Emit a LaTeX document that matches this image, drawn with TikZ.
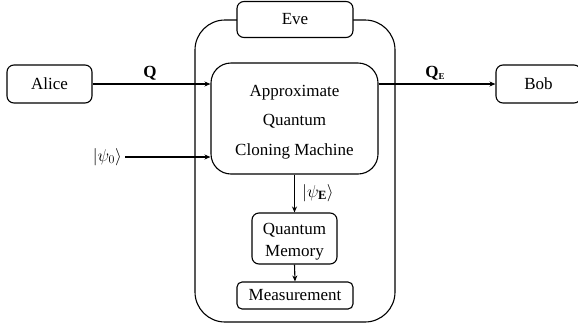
\documentclass[tikz,border=0pt]{standalone}
\usepackage{fontspec}
\setmainfont{Liberation Serif}
\usetikzlibrary{arrows.meta}
\begin{document}
\begin{tikzpicture}[x=1pt,y=-1pt,
  every node/.style={font=\fontsize{17}{21}\selectfont},
  box/.style={draw,line width=1.1pt,rounded corners=7pt,inner sep=0pt,align=center},
  txt/.style={inner sep=0pt,align=center},
  link/.style={line width=1.1pt,-{Stealth[length=6pt,width=5pt]}},
  lbl/.style={inner sep=0pt}]
\useasboundingbox (0,0) rectangle (578,330);
% Eve's enclosure and its title tab
\node[box,rounded corners=30pt,minimum width=200pt,minimum height=302pt] (eve) at (295,171) {};
\node[box,fill=white,minimum width=116pt,minimum height=36pt] (evetab) at (295,19.5) {Eve};
% parties
\node[box,minimum width=85pt,minimum height=38pt] (alice) at (49.5,84) {Alice};
\node[box,minimum width=85pt,minimum height=38pt] (bob) at (538.5,84) {Bob};
% inside Eve
\node[box,rounded corners=20pt,minimum width=167pt,minimum height=111pt] (acm) at (294.5,118.5) {};
\node[txt,font=\fontsize{17}{29.5}\selectfont] (acmtext) at (294.5,122) {Approximate\\Quantum\\Cloning Machine};
\node[box,minimum width=85pt,minimum height=51pt] (qm) at (294.5,238.5) {};
\node[txt,font=\fontsize{17}{22}\selectfont] (qmtext) at (294.5,241.5) {Quantum\\Memory};
\node[box,rounded corners=5pt,minimum width=116pt,minimum height=27pt] (meas) at (295,295.5) {Measurement};
% input state
\node[lbl,anchor=east,font=\fontsize{18}{21}\selectfont] (psi0) at (122,157) {$|\psi_0\rangle$};
% connectors
\draw[link] (alice.east) -- (acm.west |- alice.east);
\draw[link] (acm.east |- bob.west) -- (bob.west);
\draw[link] (psi0.east) ++(3,0) coordinate (p0) -- (p0 -| acm.west);
\draw[link] (acm.south) -- (qm.north);
\draw[link] (qm.south) -- (meas.north);
% labels
\node[lbl] (qlbl) at (150,73) {\textbf{Q}};
\node[lbl] (qelbl) at (435,73) {\textbf{Q}\raisebox{-2pt}{\fontsize{9}{9}\selectfont\textbf{E}}};
\node[lbl,anchor=west,font=\fontsize{18}{21}\selectfont] (psie) at (302,193) {$|\psi_{\mathbf{E}}\rangle$};
\end{tikzpicture}
\end{document}
